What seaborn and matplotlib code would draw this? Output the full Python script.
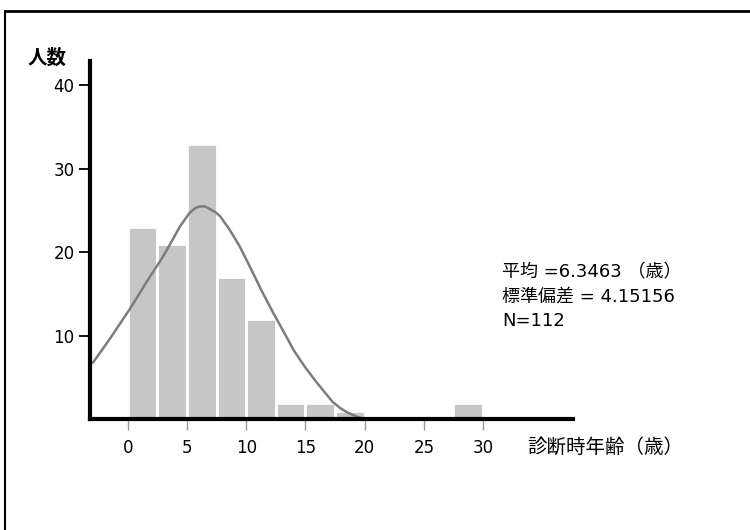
# Histogram of age at diagnosis with a normal curve overlay
import pandas as pd
import matplotlib.pyplot as plt
import matplotlib.lines as mlines
import seaborn as sns

# Bin starts (width 2.5 years) and counts
bin_starts = [0, 2.5, 5, 7.5, 10, 12.5, 15, 17.5, 20, 22.5, 25, 27.5]
counts = [23, 21, 33, 17, 12, 2, 2, 1, 0, 0, 0, 2]

# Normal curve as drawn in the chart
curve_x = [-2.95, -1.5, 0.2, 1.6, 2.7, 3.3, 4.4, 5.2, 5.7, 6.1, 6.5, 6.9, 7.4, 7.8, 8.6,
           9.45, 10.3, 11.3, 12.3, 13.2, 14.0, 14.9, 15.8, 16.6, 17.3, 18.0, 18.6, 19.4, 20.2]
curve_y = [6.8, 9.7, 13.3, 16.5, 18.9, 20.3, 23.1, 24.7, 25.3, 25.5, 25.5, 25.2, 24.8, 24.3, 22.7,
           20.7, 18.3, 15.4, 12.7, 10.4, 8.3, 6.4, 4.7, 3.3, 2.1, 1.3, 0.8, 0.3, 0.0]

x_ticks = [0, 5, 10, 15, 20, 25, 30]
y_ticks = [10, 20, 30, 40]

sns.set_theme(style='white')
plt.rcParams['font.family'] = ['DejaVu Sans', 'Noto Sans CJK JP']
plt.rcParams['text.color'] = 'black'
plt.rcParams['xtick.labelcolor'] = 'black'
plt.rcParams['ytick.labelcolor'] = 'black'

fig = plt.figure(figsize=(7.5, 5.3), dpi=100)
ax = fig.add_axes([0.12, 0.2085, 0.644, 0.6765])

# bars
bin_width = 2.5
hist_df = pd.DataFrame({'age': [b + bin_width / 2 for b in bin_starts], 'n': counts})
sns.histplot(data=hist_df, x='age', weights='n', binwidth=bin_width, binrange=(0, 30),
             color='#c6c6c6', edgecolor='white', lw=2, alpha=1, ax=ax)

# normal curve
curve_df = pd.DataFrame({'x': curve_x, 'y': curve_y})
sns.lineplot(data=curve_df, x='x', y='y', color='#7d7d7d', lw=1.8, sort=False, ax=ax)

ax.set_xlim(-3.2, 37.6)
ax.set_ylim(0, 42.9)
ax.set_xticks(x_ticks)
ax.set_yticks(y_ticks)
ax.set_xlabel('')
ax.set_ylabel('')

for side in ['top', 'right']:
    ax.spines[side].set_visible(False)
for side in ['left', 'bottom']:
    ax.spines[side].set_color('black')
    ax.spines[side].set_linewidth(3)

ax.tick_params(axis='y', direction='out', length=8, width=1.3, color='black',
               labelcolor='black', labelsize=12, pad=3, left=True)
ax.tick_params(axis='x', direction='out', length=8, width=1, color='#999999',
               labelcolor='black', labelsize=12, pad=6, bottom=True)

# text labels
fig.text(28 / 750, 1 - 58 / 530, '人数', fontsize=14, fontweight='bold', va='center', ha='left')
fig.text(527 / 750, 1 - 447 / 530, '診断時年齢（歳）', fontsize=14, va='center', ha='left')

fig.text(502 / 750, 1 - 272 / 530, '平均 =6.3463 （歳）', fontsize=13, va='center', ha='left')
fig.text(502 / 750, 1 - 297 / 530, '標準偏差 = 4.15156', fontsize=13, va='center', ha='left')
fig.text(502 / 750, 1 - 321 / 530, 'N=112', fontsize=13, va='center', ha='left')

# outer frame (left and top edges)
fig.add_artist(mlines.Line2D([5 / 750, 5 / 750], [0, 1 - 11 / 530], color='black',
                             linewidth=1.5, transform=fig.transFigure))
fig.add_artist(mlines.Line2D([5 / 750, 1], [1 - 11 / 530, 1 - 11 / 530], color='black',
                             linewidth=2, transform=fig.transFigure))

fig.savefig('out.png', dpi=100)
